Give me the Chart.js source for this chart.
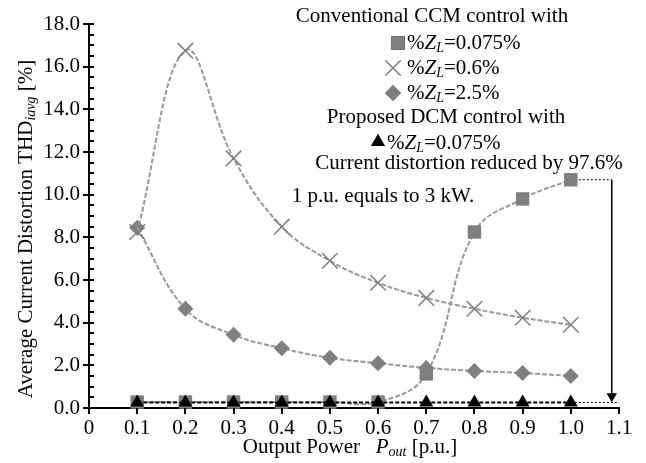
<!DOCTYPE html>
<html>
<head>
<meta charset="utf-8">
<script src="https://cdn.jsdelivr.net/npm/chart.js@4.4.0/dist/chart.umd.min.js"></script>
<style>
  body { margin: 0; background: #fff; }
  #wrap { width: 646px; height: 463px; position: relative; }
</style>
</head>
<body>
<div id="wrap"><canvas id="thdChart"></canvas></div>
<script>
// output power [p.u.]
var power = [0.1, 0.2, 0.3, 0.4, 0.5, 0.6, 0.7, 0.8, 0.9, 1.0];
// average current THD [%]
var ccmZ0075 = [0.28, 0.28, 0.28, 0.28, 0.28, 0.28, 1.6, 8.25, 9.8, 10.7];
var ccmZ06 = [8.25, 16.75, 11.7, 8.5, 6.9, 5.87, 5.16, 4.65, 4.23, 3.9];
var ccmZ25 = [8.45, 4.65, 3.43, 2.8, 2.35, 2.1, 1.88, 1.74, 1.64, 1.5];
var dcmZ0075 = [0.26, 0.26, 0.26, 0.26, 0.26, 0.26, 0.26, 0.26, 0.26, 0.26];
// reduction marker (from CCM 10.7% down to DCM 0.26%)
var topRefX = [1.0, 1.085];
var topRefY = [10.7, 10.7];
var bottomRefX = [1.0, 1.1];
var bottomRefY = [0.26, 0.26];
var arrowX = [1.085, 1.085];
var arrowY = [10.7, 0.55];

var xTicks = [0, 0.1, 0.2, 0.3, 0.4, 0.5, 0.6, 0.7, 0.8, 0.9, 1.0, 1.1];

var FONT = '"Liberation Serif", "Times New Roman", serif';
var FS = 21;
var GREY = '#7f7f7f';
var LINE_GREY = '#999999';

function pts(xs, ys) {
  return xs.map(function (x, i) { return { x: x, y: ys[i] }; });
}

// axis ticks like the original (minor ticks on y every 0.5)
var axisTicks = {
  id: 'axisTicks',
  afterDraw: function (chart) {
    var ctx = chart.ctx;
    var xs = chart.scales.x, ys = chart.scales.y;
    var x0 = xs.getPixelForValue(0), y0 = ys.getPixelForValue(0);
    ctx.save();
    ctx.strokeStyle = '#000';
    ctx.lineWidth = 2;
    ctx.beginPath();
    for (var v = 0; v <= 18.001; v += 0.5) {
      var py = Math.round(ys.getPixelForValue(v));
      var major = Math.abs(v / 2 - Math.round(v / 2)) < 0.01;
      ctx.moveTo(x0 - (major ? 6 : 0), py);
      ctx.lineTo(x0 + 5, py);
    }
    xTicks.forEach(function (v) {
      var px = Math.round(xs.getPixelForValue(v));
      ctx.moveTo(px, y0);
      ctx.lineTo(px, y0 + 6);
    });
    ctx.stroke();
    ctx.restore();
  }
};

function drawRich(ctx, parts, x, y, align) {
  var w = 0;
  parts.forEach(function (p) {
    ctx.font = (p.it ? 'italic ' : '') + (p.sub ? 14 : FS) + 'px ' + FONT;
    p.w = ctx.measureText(p.t).width;
    w += p.w;
  });
  var cx = align === 'center' ? x - w / 2 : x;
  parts.forEach(function (p) {
    ctx.font = (p.it ? 'italic ' : '') + (p.sub ? 14 : FS) + 'px ' + FONT;
    ctx.fillText(p.t, cx, y + (p.sub ? 5 : 0));
    cx += p.w;
  });
}

function zl(val) {
  return [{ t: '%' }, { t: 'Z', it: true }, { t: 'L', it: true, sub: true }, { t: '=' + val + '%' }];
}

var notes = {
  id: 'notes',
  afterDraw: function (chart) {
    var ctx = chart.ctx;
    var H = Chart.helpers;
    ctx.save();
    ctx.fillStyle = '#000';
    ctx.textAlign = 'left';
    ctx.textBaseline = 'middle';

    drawRich(ctx, [{ t: 'Conventional CCM control with' }], 432, 16, 'center');
    H.drawPoint(ctx, { pointStyle: 'rect', radius: 9.5, borderWidth: 0, rotation: 0 }, 398, 43);
    ctx.fillStyle = GREY;
    ctx.fill();
    ctx.fillStyle = '#000';
    drawRich(ctx, zl('0.075'), 407, 43, 'left');

    ctx.strokeStyle = GREY;
    ctx.lineWidth = 1.5;
    H.drawPoint(ctx, { pointStyle: 'crossRot', radius: 11, borderWidth: 1.5, rotation: 0 }, 393, 68);
    drawRich(ctx, zl('0.6'), 407, 68, 'left');

    ctx.fillStyle = GREY;
    H.drawPoint(ctx, { pointStyle: 'rectRot', radius: 8, borderWidth: 0, rotation: 0 }, 393, 93);
    ctx.fill();
    ctx.fillStyle = '#000';
    drawRich(ctx, zl('2.5'), 407, 93, 'left');

    drawRich(ctx, [{ t: 'Proposed DCM control with' }], 446, 117, 'center');
    ctx.fillStyle = '#000';
    H.drawPoint(ctx, { pointStyle: 'triangle', radius: 8, borderWidth: 0, rotation: 0 }, 378, 142);
    ctx.fill();
    drawRich(ctx, zl('0.075'), 387, 143, 'left');

    drawRich(ctx, [{ t: 'Current distortion reduced by 97.6%' }], 469, 163, 'center');
    drawRich(ctx, [{ t: '1 p.u. equals to 3 kW.' }], 383, 196, 'center');

    // x axis title
    drawRich(ctx, [{ t: 'Output Power   ' }, { t: 'P', it: true }, { t: 'out', it: true, sub: true }, { t: ' [p.u.]' }], 350, 447, 'center');

    // y axis title
    ctx.translate(26, 229);
    ctx.rotate(-Math.PI / 2);
    drawRich(ctx, [{ t: 'Average Current Distortion THD' }, { t: 'iavg', it: true, sub: true }, { t: ' [%]' }], 0, 0, 'center');
    ctx.restore();
  }
};

var ctx = document.getElementById('thdChart').getContext('2d');
new Chart(ctx, {
  type: 'line',
  data: {
    datasets: [
      {
        label: 'DCM %ZL=0.075%',
        data: pts(power, dcmZ0075),
        borderColor: '#000',
        borderWidth: 2,
        borderDash: [4, 2],
        pointStyle: 'triangle',
        pointRadius: 8,
        pointBackgroundColor: '#000',
        pointBorderWidth: 0,
        tension: 0.4,
        order: 1
      },
      {
        label: 'CCM %ZL=0.075%',
        data: pts(power, ccmZ0075),
        borderColor: LINE_GREY,
        borderWidth: 2,
        borderDash: [5, 2],
        pointStyle: 'rect',
        pointRadius: 9.5,
        pointBackgroundColor: GREY,
        pointBorderWidth: 0,
        tension: 0.4,
        order: 2
      },
      {
        label: 'CCM %ZL=0.6%',
        data: pts(power, ccmZ06),
        borderColor: LINE_GREY,
        borderWidth: 2,
        borderDash: [5, 2],
        pointStyle: 'crossRot',
        pointRadius: 11,
        pointBorderColor: GREY,
        pointBorderWidth: 1.5,
        tension: 0.4,
        order: 3
      },
      {
        label: 'CCM %ZL=2.5%',
        data: pts(power, ccmZ25),
        borderColor: LINE_GREY,
        borderWidth: 2,
        borderDash: [5, 2],
        pointStyle: 'rectRot',
        pointRadius: 8,
        pointBackgroundColor: GREY,
        pointBorderWidth: 0,
        tension: 0.4,
        order: 4
      },
      {
        data: pts(topRefX, topRefY),
        borderColor: '#000',
        borderWidth: 1,
        borderDash: [2, 2],
        pointRadius: 0,
        order: 5
      },
      {
        data: pts(bottomRefX, bottomRefY),
        borderColor: '#000',
        borderWidth: 1,
        borderDash: [2, 2],
        pointRadius: 0,
        order: 5
      },
      {
        data: pts(arrowX, arrowY),
        borderColor: '#000',
        borderWidth: 1.5,
        pointStyle: 'triangle',
        pointRadius: [0, 6],
        pointRotation: 180,
        pointBackgroundColor: '#000',
        pointBorderWidth: 0,
        order: 0
      }
    ]
  },
  options: {
    responsive: true,
    maintainAspectRatio: false,
    animation: false,
    clip: false,
    layout: { padding: { top: 24, right: 27, left: 0, bottom: 0 } },
    plugins: {
      legend: { display: false },
      tooltip: { enabled: false }
    },
    scales: {
      x: {
        type: 'linear',
        min: 0,
        max: 1.1,
        grid: { display: false, drawTicks: false },
        border: { display: true, color: '#000', width: 2 },
        afterBuildTicks: function (scale) {
          scale.ticks = xTicks.map(function (v) { return { value: v }; });
        },
        afterFit: function (scale) { scale.height = 55; },
        ticks: {
          color: '#000',
          padding: 8,
          maxRotation: 0,
          font: { family: FONT, size: FS },
          callback: function (v) { return v === 0 ? '0' : v.toFixed(1); }
        }
      },
      y: {
        min: 0,
        max: 18,
        grid: { display: false, drawTicks: false },
        border: { display: true, color: '#000', width: 2 },
        afterFit: function (scale) { scale.width = 89; },
        ticks: {
          stepSize: 2,
          color: '#000',
          padding: 9,
          font: { family: FONT, size: FS },
          callback: function (v) { return v.toFixed(1); }
        }
      }
    }
  },
  plugins: [axisTicks, notes]
});
</script>
</body>
</html>
